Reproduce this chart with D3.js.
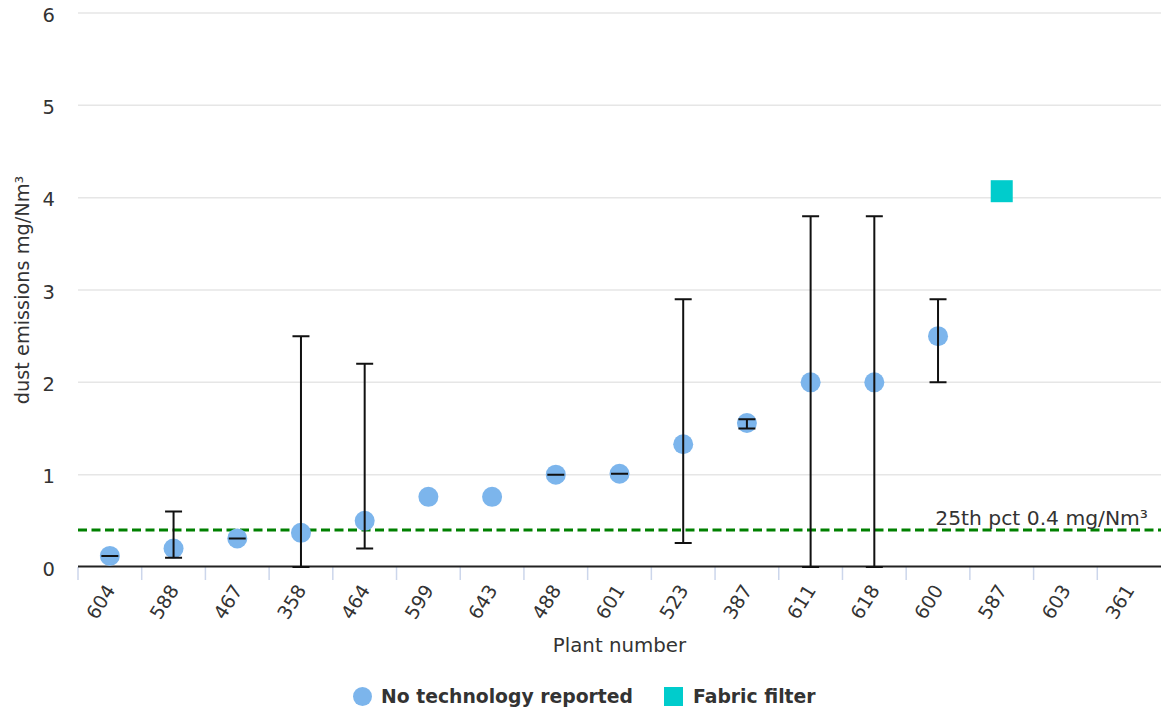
<!DOCTYPE html>
<html>
<head>
<meta charset="utf-8">
<script src="https://cdn.jsdelivr.net/npm/d3@7"></script>
<style>
  html, body { margin: 0; padding: 0; background: #ffffff; }
  svg { display: block; font-family: "DejaVu Sans", Verdana, sans-serif; }
</style>
</head>
<body>
<svg id="chart" width="1161" height="711"></svg>
<script>
// Plant identifiers along the x axis
const plants = ["604", "588", "467", "358", "464", "599", "643", "488", "601",
                "523", "387", "611", "618", "600", "587", "603", "361"];

// Average dust emissions (mg/Nm³), plants with no abatement technology reported
const noTechValues = [0.12, 0.2, 0.31, 0.37, 0.5, 0.76, 0.76, 1.0, 1.01,
                      1.33, 1.56, 2.0, 2.0, 2.5, null, null, null];

// Min / max range of measurements for each plant
const rangeLow  = [0.12, 0.1, 0.31, 0, 0.2, null, null, 1.0, 1.01,
                   0.26, 1.5, 0, 0, 2.0, null, null, null];
const rangeHigh = [0.12, 0.6, 0.31, 2.5, 2.2, null, null, 1.0, 1.01,
                   2.9, 1.6, 3.8, 3.8, 2.9, null, null, null];

// Plants equipped with a fabric filter
const fabricValues = [null, null, null, null, null, null, null, null, null,
                      null, null, null, null, null, 4.07, null, null];

const yTicks = [0, 1, 2, 3, 4, 5, 6];
const pct25 = 0.4;
const pct25Label = "25th pct 0.4 mg/Nm³";

const svg = d3.select("#chart");
const plot = { left: 78, right: 1161, top: 13, bottom: 567 };

const x = d3.scaleBand().domain(plants).range([plot.left, plot.right]).padding(0);
const y = d3.scaleLinear().domain([0, 6]).range([plot.bottom, plot.top]);

// Horizontal gridlines
svg.append("g")
  .selectAll("line")
  .data(yTicks.filter(d => d > 0))
  .join("line")
  .attr("x1", plot.left).attr("x2", plot.right)
  .attr("y1", d => y(d)).attr("y2", d => y(d))
  .attr("stroke", "#e6e6e6").attr("stroke-width", 1.5);

// Y axis labels
const yAxis = d3.axisLeft(y).tickValues(yTicks).tickSize(0).tickPadding(0)
  .tickFormat(d3.format("d"));
const yg = svg.append("g").attr("transform", `translate(${plot.left - 23},0)`).call(yAxis);
yg.select(".domain").remove();
yg.selectAll("text")
  .attr("font-family", "DejaVu Sans")
  .attr("font-size", 19.5)
  .attr("fill", "#333")
  .attr("dy", "0.42em");

// Y axis title
svg.append("text")
  .attr("transform", `translate(29,${(plot.top + plot.bottom) / 2}) rotate(-90)`)
  .attr("text-anchor", "middle")
  .attr("font-size", 19.3)
  .attr("fill", "#333")
  .text("dust emissions mg/Nm³");

// X axis: ticks on category boundaries, labels rotated
const bounds = plants.map(p => x(p));
svg.append("g")
  .selectAll("line")
  .data(bounds)
  .join("line")
  .attr("x1", d => d).attr("x2", d => d)
  .attr("y1", plot.bottom).attr("y2", plot.bottom + 13)
  .attr("stroke", "#ccd6eb").attr("stroke-width", 1.5);

svg.append("g")
  .selectAll("text")
  .data(plants)
  .join("text")
  .attr("transform", d => `translate(${x(d) + x.bandwidth() / 2 + 6},${plot.bottom + 23}) rotate(-58)`)
  .attr("text-anchor", "end")
  .attr("font-size", 19)
  .attr("fill", "#333")
  .text(d => d);

svg.append("line")
  .attr("x1", plot.left).attr("x2", plot.right)
  .attr("y1", plot.bottom - 0.5).attr("y2", plot.bottom - 0.5)
  .attr("stroke", "#222").attr("stroke-width", 2);

svg.append("text")
  .attr("x", (plot.left + plot.right) / 2)
  .attr("y", 652)
  .attr("text-anchor", "middle")
  .attr("font-size", 19.8)
  .attr("fill", "#333")
  .text("Plant number");

// 25th percentile reference line
svg.append("line")
  .attr("x1", plot.left).attr("x2", plot.right)
  .attr("y1", y(pct25)).attr("y2", y(pct25))
  .attr("stroke", "#008000").attr("stroke-width", 3)
  .attr("stroke-dasharray", "9,4.5");

svg.append("text")
  .attr("x", plot.right - 13)
  .attr("y", y(pct25) - 5)
  .attr("text-anchor", "end")
  .attr("font-size", 20.3)
  .attr("fill", "#333")
  .text(pct25Label);

const cx = p => x(p) + x.bandwidth() / 2;

// Points: no technology reported
svg.append("g")
  .selectAll("circle")
  .data(plants.map((p, i) => ({ p, v: noTechValues[i] })).filter(d => d.v != null))
  .join("circle")
  .attr("cx", d => cx(d.p))
  .attr("cy", d => y(d.v))
  .attr("r", 10)
  .attr("fill", "#7cb5ec");

// Points: fabric filter
const sq = 22;
svg.append("g")
  .selectAll("rect")
  .data(plants.map((p, i) => ({ p, v: fabricValues[i] })).filter(d => d.v != null))
  .join("rect")
  .attr("x", d => cx(d.p) - sq / 2)
  .attr("y", d => y(d.v) - sq / 2)
  .attr("width", sq).attr("height", sq)
  .attr("fill", "#00cccc");

// Min/max range whiskers
const ranges = plants.map((p, i) => ({ p, lo: rangeLow[i], hi: rangeHigh[i] }))
  .filter(d => d.lo != null && d.hi != null);
const capW = 8.5;
const eg = svg.append("g").attr("stroke", "#111").attr("stroke-width", 2).attr("fill", "none");
eg.selectAll("path")
  .data(ranges)
  .join("path")
  .attr("d", d => {
    const c = cx(d.p), yl = y(d.lo), yh = y(d.hi);
    return `M${c - capW},${yh}H${c + capW}M${c},${yh}V${yl}M${c - capW},${yl}H${c + capW}`;
  });

// Legend
const legend = svg.append("g");
legend.append("circle").attr("cx", 362.5).attr("cy", 696.5).attr("r", 9.5).attr("fill", "#7cb5ec");
legend.append("text").attr("x", 381).attr("y", 703)
  .attr("font-size", 18.8).attr("font-weight", "bold").attr("fill", "#333")
  .text("No technology reported");
legend.append("rect").attr("x", 664).attr("y", 687).attr("width", 19).attr("height", 19)
  .attr("fill", "#00cccc");
legend.append("text").attr("x", 693).attr("y", 703)
  .attr("font-size", 18.8).attr("font-weight", "bold").attr("fill", "#333")
  .text("Fabric filter");
</script>
</body>
</html>
